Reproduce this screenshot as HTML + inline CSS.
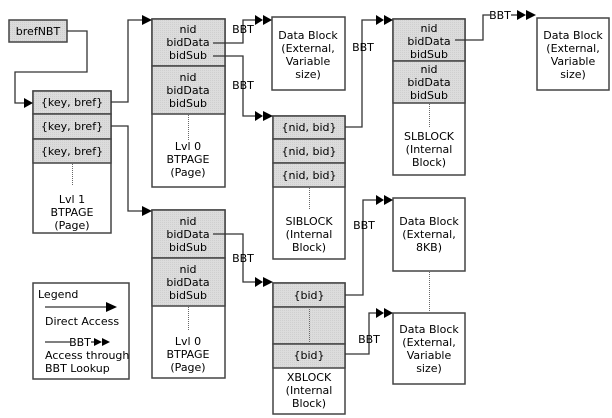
<!DOCTYPE html>
<html><head><meta charset="utf-8"><style>html,body{margin:0;padding:0;background:#fff}svg{display:block}</style></head><body>
<svg width="612" height="418" viewBox="0 0 612 418" xmlns="http://www.w3.org/2000/svg" font-family="DejaVu Sans, Liberation Sans, sans-serif" font-size="11" fill="#000">
<defs>
<pattern id="g" width="2" height="2" patternUnits="userSpaceOnUse"><rect width="2" height="2" fill="#dcdcdc"/><rect width="1" height="1" fill="#cfcfcf"/></pattern>
</defs>
<g stroke="#444" stroke-width="1.5">
<rect x="9" y="20" width="58" height="22" fill="url(#g)"/>
<rect x="33" y="91" width="78" height="142" fill="#fff"/>
<rect x="33" y="91" width="78" height="23" fill="url(#g)"/>
<rect x="33" y="114" width="78" height="25" fill="url(#g)"/>
<rect x="33" y="139" width="78" height="24" fill="url(#g)"/>
<rect x="152" y="19" width="73" height="168" fill="#fff"/>
<rect x="152" y="19" width="73" height="47" fill="url(#g)"/>
<rect x="152" y="66" width="73" height="48" fill="url(#g)"/>
<rect x="152" y="210" width="73" height="168" fill="#fff"/>
<rect x="152" y="210" width="73" height="48" fill="url(#g)"/>
<rect x="152" y="258" width="73" height="48" fill="url(#g)"/>
<rect x="272" y="17" width="73" height="73" fill="#fff"/>
<rect x="273" y="116" width="72" height="143" fill="#fff"/>
<rect x="273" y="116" width="72" height="23" fill="url(#g)"/>
<rect x="273" y="139" width="72" height="24" fill="url(#g)"/>
<rect x="273" y="163" width="72" height="24" fill="url(#g)"/>
<rect x="393" y="19" width="72" height="156" fill="#fff"/>
<rect x="393" y="19" width="72" height="42" fill="url(#g)"/>
<rect x="393" y="61" width="72" height="42" fill="url(#g)"/>
<rect x="537" y="18" width="72" height="72" fill="#fff"/>
<rect x="273" y="283" width="72" height="131" fill="#fff"/>
<rect x="273" y="283" width="72" height="24" fill="url(#g)"/>
<rect x="273" y="307" width="72" height="37" fill="url(#g)"/>
<rect x="273" y="344" width="72" height="24" fill="url(#g)"/>
<rect x="393" y="198" width="72" height="73" fill="#fff"/>
<rect x="393" y="313" width="72" height="71" fill="#fff"/>
<rect x="33" y="283" width="96" height="96" fill="#fff"/>
</g>
<g stroke="#666" stroke-width="1" stroke-dasharray="1,1">
<line x1="72.5" y1="164" x2="72.5" y2="186"/>
<line x1="188.5" y1="115" x2="188.5" y2="140"/>
<line x1="188.5" y1="307" x2="188.5" y2="331"/>
<line x1="309.5" y1="188" x2="309.5" y2="210"/>
<line x1="429.5" y1="104" x2="429.5" y2="128"/>
<line x1="309.5" y1="309" x2="309.5" y2="342"/>
<line x1="429.5" y1="272" x2="429.5" y2="312"/>
</g>
<g stroke="#333" stroke-width="1.3" fill="none">
<polyline points="67,31 87,31 87,72 15,72 15,103 26,103"/>
<polyline points="111,102 128,102 128,20 145,20"/>
<polyline points="111,126 128,126 128,211 145,211"/>
<polyline points="213,43 243,43 243,20 256,20"/>
<polyline points="213,56 243,56 243,116 256,116"/>
<polyline points="345,127 362,127 362,20 377,20"/>
<polyline points="455,40 483,40 483,15 490,15"/>
<line x1="511" y1="15" x2="518" y2="15"/>
<polyline points="213,234 243,234 243,282 256,282"/>
<polyline points="345,295 363,295 363,200 377,200"/>
<polyline points="345,354 369,354 369,313 377,313"/>
<line x1="45" y1="307" x2="108" y2="307"/>
<line x1="45" y1="342" x2="70" y2="342"/>
<line x1="91" y1="342" x2="95" y2="342"/>
</g>
<g fill="#000">
<polygon points="24,98 33,103 24,108"/>
<polygon points="142,15 152,20 142,25"/>
<polygon points="142,206 152,211 142,216"/>
<polygon points="255,15 263,20 255,25"/><polygon points="263,15 272,20 263,25"/>
<polygon points="255,111 263,116 255,121"/><polygon points="263,111 273,116 263,121"/>
<polygon points="376,15 384,20 376,25"/><polygon points="384,15 393,20 384,25"/>
<polygon points="517,10 526,15 517,20"/><polygon points="526,10 536,15 526,20"/>
<polygon points="255,277 263,282 255,287"/><polygon points="263,277 273,282 263,287"/>
<polygon points="376,195 384,200 376,205"/><polygon points="384,195 393,200 384,205"/>
<polygon points="376,308 384,313 376,318"/><polygon points="384,308 393,313 384,318"/>
<polygon points="106,302 117,307 106,312"/>
<polygon points="94,338 102,342 94,346"/><polygon points="102,338 110,342 102,346"/>
</g>
<g text-anchor="middle">
<text x="38" y="35">brefNBT</text>
<text x="72" y="106">{key, bref}</text>
<text x="72" y="130">{key, bref}</text>
<text x="72" y="155">{key, bref}</text>
<text x="72" y="203">Lvl 1</text><text x="72" y="216">BTPAGE</text><text x="72" y="229">(Page)</text>
<text x="188" y="33">nid</text><text x="188" y="46">bidData</text><text x="188" y="59">bidSub</text>
<text x="188" y="81">nid</text><text x="188" y="94">bidData</text><text x="188" y="107">bidSub</text>
<text x="188" y="150">Lvl 0</text><text x="188" y="163">BTPAGE</text><text x="188" y="176">(Page)</text>
<text x="188" y="225">nid</text><text x="188" y="238">bidData</text><text x="188" y="251">bidSub</text>
<text x="188" y="273">nid</text><text x="188" y="286">bidData</text><text x="188" y="299">bidSub</text>
<text x="188" y="345">Lvl 0</text><text x="188" y="358">BTPAGE</text><text x="188" y="371">(Page)</text>
<text x="308" y="39">Data Block</text><text x="308" y="52">(External,</text><text x="308" y="65">Variable</text><text x="308" y="78">size)</text>
<text x="309" y="131">{nid, bid}</text><text x="309" y="155">{nid, bid}</text><text x="309" y="179">{nid, bid}</text>
<text x="309" y="225">SIBLOCK</text><text x="309" y="238">(Internal</text><text x="309" y="251">Block)</text>
<text x="429" y="32">nid</text><text x="429" y="45">bidData</text><text x="429" y="58">bidSub</text>
<text x="429" y="73">nid</text><text x="429" y="86">bidData</text><text x="429" y="99">bidSub</text>
<text x="429" y="140">SLBLOCK</text><text x="429" y="153">(Internal</text><text x="429" y="166">Block)</text>
<text x="573" y="39">Data Block</text><text x="573" y="52">(External,</text><text x="573" y="65">Variable</text><text x="573" y="78">size)</text>
<text x="309" y="299">{bid}</text><text x="309" y="359">{bid}</text>
<text x="309" y="381">XBLOCK</text><text x="309" y="394">(Internal</text><text x="309" y="407">Block)</text>
<text x="429" y="225">Data Block</text><text x="429" y="238">(External,</text><text x="429" y="251">8KB)</text>
<text x="429" y="333">Data Block</text><text x="429" y="346">(External,</text><text x="429" y="359">Variable</text><text x="429" y="372">size)</text>
<text x="243" y="33">BBT</text><text x="243" y="89">BBT</text><text x="243" y="262">BBT</text>
<text x="363" y="51">BBT</text><text x="500" y="19">BBT</text>
<text x="364" y="229">BBT</text><text x="369" y="343">BBT</text>
<text x="80" y="346">BBT</text>
</g>
<text x="38" y="298">Legend</text>
<text x="45" y="325">Direct Access</text>
<text x="45" y="359">Access through</text>
<text x="45" y="372">BBT Lookup</text>
</svg>
</body></html>
